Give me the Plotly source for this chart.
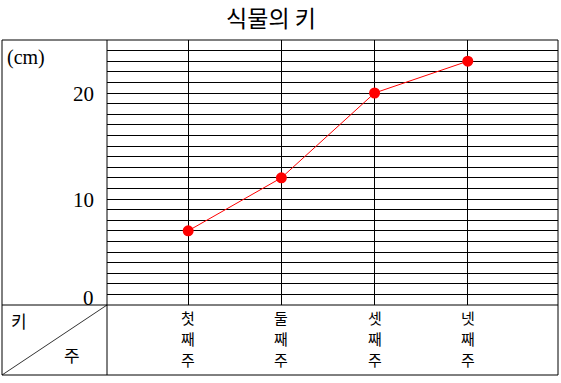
import plotly.graph_objects as go

weeks = ["첫째주", "둘째주", "셋째주", "넷째주"]
heights = [7, 12, 20, 23]
ytick_vals = [0, 10, 20]
ytick_text = ["0", "10", "20"]
title_text = "식물의 키"
unit_text = "(cm)"
row_label = "키"
col_label = "주"

W, H = 561, 383
L, R, T, B = 107, 3, 40, 78
pw, ph = W - L - R, H - T - B

def px(x):
    return (x - L) / pw

def py(y):
    return (H - B - y) / ph

fig = go.Figure()
fig.add_trace(go.Scatter(
    x=weeks, y=heights, mode="lines+markers",
    line=dict(color="#ff0000", width=1),
    marker=dict(color="#ff0000", size=11, symbol="circle"),
    showlegend=False, cliponaxis=False,
))

black = "#000000"
shapes = [
    dict(type="rect", xref="paper", yref="paper", x0=px(2), y0=py(375), x1=px(558), y1=py(40),
         line=dict(color=black, width=1)),
    dict(type="line", xref="paper", yref="paper", x0=px(2), y0=py(305), x1=px(558), y1=py(305),
         line=dict(color=black, width=1)),
    dict(type="line", xref="paper", yref="paper", x0=px(107), y0=py(40), x1=px(107), y1=py(375),
         line=dict(color=black, width=1)),
    dict(type="line", xref="paper", yref="paper", x0=px(2), y0=py(375), x1=px(107), y1=py(305),
         line=dict(color=black, width=0.8)),
]

ann = []
for v, t in zip(ytick_vals, ytick_text):
    ann.append(dict(xref="paper", yref="y", x=px(96), y=v, text=t, showarrow=False,
                    xanchor="right", yanchor="middle", yshift=7 if v == 0 else -1,
                    font=dict(family="Liberation Serif", size=21, color=black)))
ann.append(dict(xref="paper", yref="paper", x=px(5), y=py(57), text=unit_text, showarrow=False,
                xanchor="left", yanchor="middle",
                font=dict(family="Liberation Serif", size=20, color=black)))
char_rows = [317, 338, 359]
for w in weeks:
    for ch, row in zip(list(w), char_rows):
        ann.append(dict(xref="x", yref="paper", x=w, y=py(row), text=ch,
                        showarrow=False, xanchor="center", yanchor="middle",
                        borderpad=0,
                        font=dict(family="Noto Sans CJK KR", size=15, color=black)))
ann.append(dict(xref="paper", yref="paper", x=px(19), y=py(320), text=row_label, showarrow=False,
                xanchor="center", yanchor="middle",
                font=dict(family="Noto Sans CJK KR", size=17, color=black)))
ann.append(dict(xref="paper", yref="paper", x=px(72), y=py(354), text=col_label, showarrow=False,
                xanchor="center", yanchor="middle",
                font=dict(family="Noto Sans CJK KR", size=17, color=black)))

fig.update_layout(
    width=W, height=H,
    margin=dict(l=L, r=R, t=T, b=B),
    paper_bgcolor="white", plot_bgcolor="white",
    title=dict(text=title_text, x=271 / W, y=1 - 19 / H, xanchor="center", yanchor="middle",
               font=dict(family="Noto Sans CJK KR", size=23, color=black)),
    xaxis=dict(type="category", range=[-0.871, 3.968], showgrid=True, gridcolor=black, gridwidth=1,
               showticklabels=False, ticks="", zeroline=False, showline=False, fixedrange=True),
    yaxis=dict(range=[0, 25], dtick=1, showgrid=True, gridcolor=black, gridwidth=1,
               showticklabels=False, ticks="", zeroline=False, showline=False, fixedrange=True),
    shapes=shapes, annotations=ann,
)

fig.write_html("out.html")
